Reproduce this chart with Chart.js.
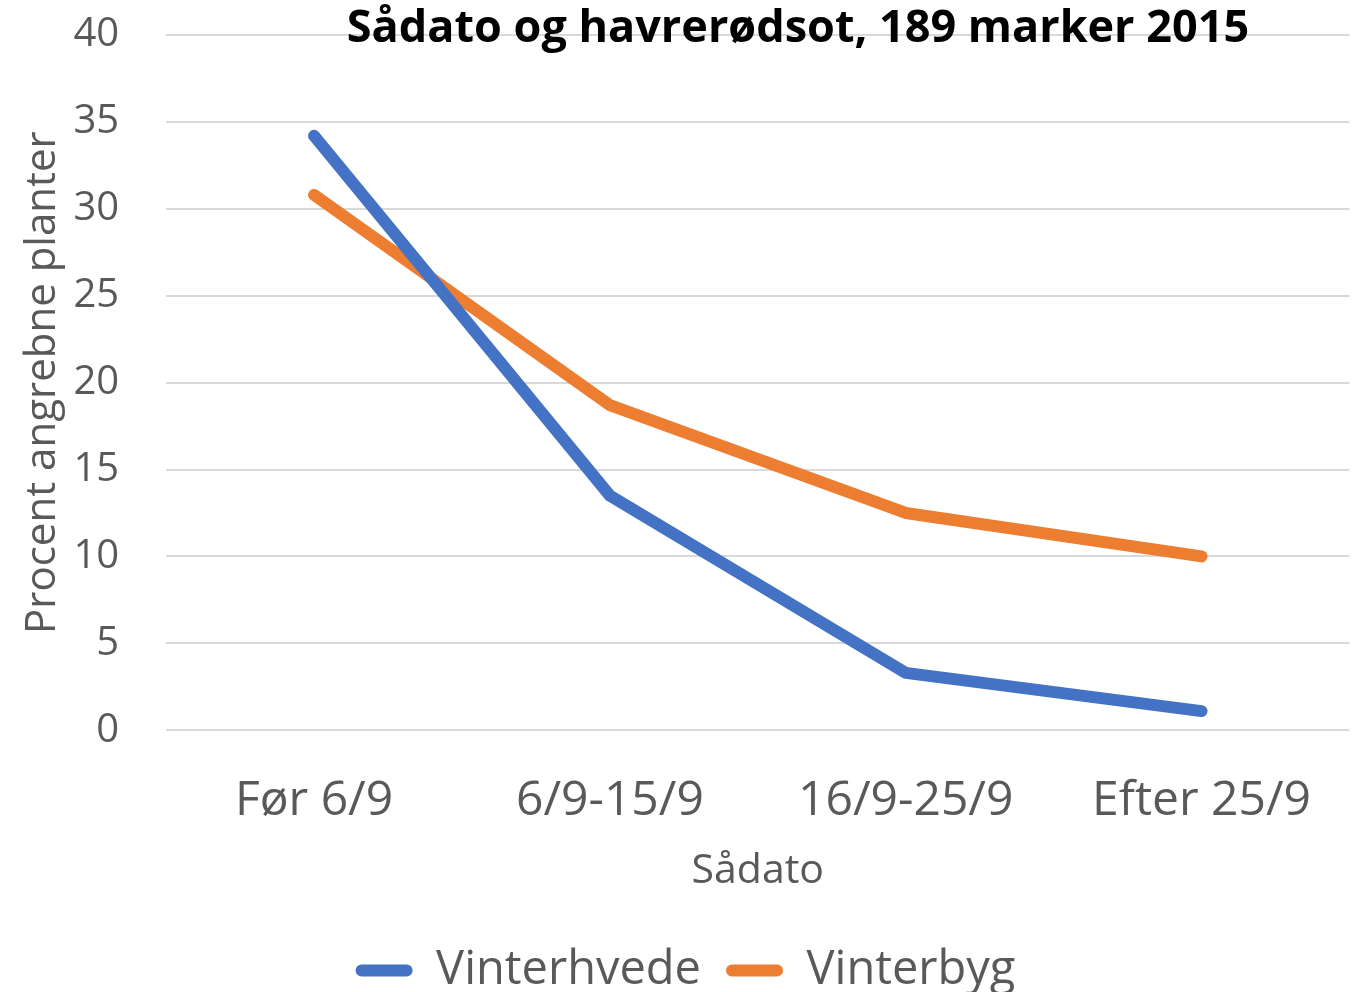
<!DOCTYPE html>
<html>
<head>
<meta charset="utf-8">
<script src="https://cdn.jsdelivr.net/npm/chart.js@4"></script>
<style>
  html, body { margin: 0; padding: 0; background: #fff; }
  #wrap { width: 1353px; height: 992px; }
</style>
</head>
<body>
<div id="wrap"><canvas id="chart" width="1353" height="992"></canvas></div>
<script>
// Data
const categories = ['Før 6/9', '6/9-15/9', '16/9-25/9', 'Efter 25/9'];
const vinterhvede = [34.2, 13.5, 3.3, 1.1];
const vinterbyg = [30.8, 18.7, 12.5, 10.0];
const yTicks = [0, 5, 10, 15, 20, 25, 30, 35, 40];

const chartTitle = 'Sådato og havrerødsot, 189 marker 2015';
const FONT = "'Open Sans', sans-serif";
const GREY = '#595959';

// title sits on top of the plot area, like in the original
const overlayTitle = {
  id: 'overlayTitle',
  afterDraw(chart) {
    const ctx = chart.ctx;
    ctx.save();
    ctx.font = "bold 45px " + FONT;
    ctx.fillStyle = '#000';
    ctx.textAlign = 'center';
    ctx.textBaseline = 'middle';
    ctx.fillText(chartTitle, 798, 29);
    ctx.restore();
  }
};

const ctx = document.getElementById('chart').getContext('2d');

new Chart(ctx, {
  type: 'line',
  data: {
    labels: categories,
    datasets: [
      {
        label: 'Vinterhvede',
        data: vinterhvede,
        borderColor: '#4472C4',
        backgroundColor: '#4472C4',
        borderWidth: 12,
        borderCapStyle: 'round',
        borderJoinStyle: 'round',
        pointRadius: 0,
        tension: 0
      },
      {
        label: 'Vinterbyg',
        data: vinterbyg,
        borderColor: '#ED7D31',
        backgroundColor: '#ED7D31',
        borderWidth: 12,
        borderCapStyle: 'round',
        borderJoinStyle: 'round',
        pointRadius: 0,
        tension: 0
      }
    ]
  },
  options: {
    responsive: false,
    animation: false,
    layout: { padding: { top: 35, right: 0, left: 18, bottom: -12 } },
    plugins: {
      title: { display: false },
      tooltip: { enabled: false },
      legend: {
        position: 'bottom',
        labels: {
          color: GREY,
          font: { family: FONT, size: 47 },
          boxWidth: 57,
          boxHeight: 12,
          useBorderRadius: true,
          borderRadius: 6,
          padding: 25,
          generateLabels(chart) {
            const items = Chart.defaults.plugins.legend.labels.generateLabels(chart);
            items.forEach(it => { it.lineWidth = 0; it.strokeStyle = 'transparent'; });
            return items;
          }
        }
      }
    },
    scales: {
      x: {
        offset: true,
        grid: { display: false, drawTicks: false },
        border: { display: false },
        ticks: {
          color: GREY,
          font: { family: FONT, size: 48 },
          padding: 42,
          maxRotation: 0
        },
        title: {
          display: true,
          text: 'Sådato',
          color: GREY,
          font: { family: FONT, size: 41 },
          padding: { top: -25, bottom: 26 }
        }
      },
      y: {
        min: 0,
        max: 40,
        afterBuildTicks(axis) {
          axis.ticks = yTicks.map(v => ({ value: v }));
        },
        // invisible tick marks keep the gap between labels and plot
        grid: { color: '#D9D9D9', lineWidth: 2, drawTicks: true, tickLength: 47, tickColor: 'rgba(0,0,0,0)' },
        border: { display: false },
        ticks: {
          color: GREY,
          font: { family: FONT, size: 40 },
          padding: 0
        },
        title: {
          display: true,
          text: 'Procent angrebne planter',
          color: GREY,
          font: { family: FONT, size: 42 },
          padding: { top: 0, bottom: 5 }
        }
      }
    }
  },
  plugins: [overlayTitle]
});
</script>
</body>
</html>
